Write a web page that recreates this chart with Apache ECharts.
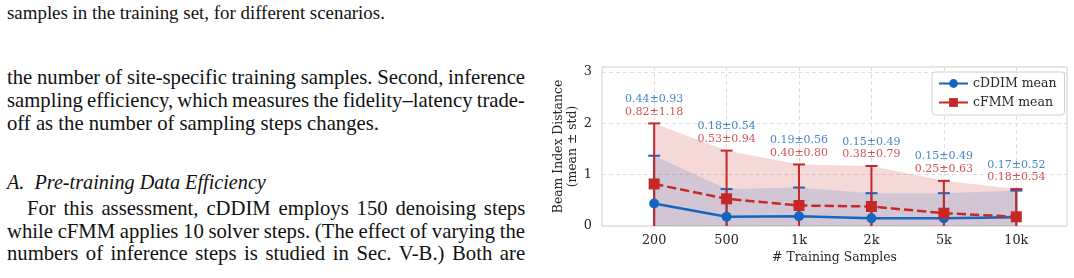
<!DOCTYPE html>
<html>
<head>
<meta charset="utf-8">
<script src="https://cdn.jsdelivr.net/npm/echarts@6/dist/echarts.min.js"></script>
<style>
html, body { margin: 0; padding: 0; background: #fff; }
#page { position: relative; width: 1074px; height: 278px; overflow: hidden; }
#main { position: absolute; left: 0; top: 0; width: 1074px; height: 278px; }
.ln { position: absolute; left: 7px; height: 22px; line-height: 22px;
      font-family: "Liberation Serif"; font-size: 20.7px; color: #111; white-space: nowrap; }
</style>
</head>
<body>
<div id="page">
  <div class="ln" style="top:2px;font-size:18.9px"><span>samples in the training set, for different scenarios.</span></div>
  <div class="ln" style="top:66px" data-w="518"><span>the number of site-specific training samples. Second, inference</span></div>
  <div class="ln" style="top:89px" data-w="518"><span>sampling efficiency, which measures the fidelity–latency trade-</span></div>
  <div class="ln" style="top:111.5px"><span>off as the number of sampling steps changes.</span></div>
  <div class="ln" style="top:170.7px;font-size:20.2px;font-style:italic"><span>A.&nbsp; Pre-training Data Efficiency</span></div>
  <div class="ln" style="top:197px;left:27px" data-w="498"><span>For this assessment, cDDIM employs 150 denoising steps</span></div>
  <div class="ln" style="top:219.7px" data-w="518"><span>while cFMM applies 10 solver steps. (The effect of varying the</span></div>
  <div class="ln" style="top:242.3px" data-w="518"><span>numbers of inference steps is studied in Sec. V-B.) Both are</span></div>
  <div id="main"></div>
</div>
<script>
// training-set sizes and per-model mean / std of beam index distance
var categories = ['200', '500', '1k', '2k', '5k', '10k'];
var cddimMean = [0.44, 0.18, 0.19, 0.15, 0.15, 0.17];
var cddimStd = [0.93, 0.54, 0.56, 0.49, 0.49, 0.52];
var cfmmMean = [0.82, 0.53, 0.40, 0.38, 0.25, 0.18];
var cfmmStd = [1.18, 0.94, 0.80, 0.79, 0.63, 0.54];
var yTicks = [0, 1, 2, 3];

var BLUE = '#1565c0';
var RED = '#c62828';
var FONT = 'DejaVu Serif';
var INK = '#262626';

// justify the page text lines by word spacing
document.querySelectorAll('.ln[data-w]').forEach(function (el) {
	var span = el.firstElementChild;
	var target = parseFloat(el.getAttribute('data-w'));
	var gaps = span.textContent.split(' ').length - 1;
	var w = span.offsetWidth;
	el.style.wordSpacing = ((target - w) / gaps) + 'px';
});

var xIdx = categories.map(function (c, i) { return i; });
function pts(arr) { return arr.map(function (v, i) { return [i, v]; }); }
function upper(m, s) { return m.map(function (v, i) { return +(v + s[i]).toFixed(2); }); }
function fmt(m, s, i) { return m[i].toFixed(2) + '±' + s[i].toFixed(2); }

function errorBars(mean, std, color, name) {
	return {
		type: 'custom',
		name: name,
		z: 3,
		silent: true,
		clip: true,
		data: mean.map(function (v, i) { return [i, v - std[i], v + std[i]]; }),
		renderItem: function (params, api) {
			var x = api.value(0), lo = api.value(1), hi = api.value(2);
			var top = api.coord([x, hi]);
			var bot = api.coord([x, Math.max(lo, 0)]);
			var half = 6;
			var style = { stroke: color, lineWidth: 2, fill: null };
			var kids = [
				{ type: 'line', shape: { x1: top[0], y1: top[1], x2: bot[0], y2: bot[1] }, style: style },
				{ type: 'line', shape: { x1: top[0] - half, y1: top[1], x2: top[0] + half, y2: top[1] }, style: style }
			];
			if (lo >= 0) {
				kids.push({ type: 'line', shape: { x1: bot[0] - half, y1: bot[1], x2: bot[0] + half, y2: bot[1] }, style: style });
			}
			return { type: 'group', children: kids };
		}
	};
}

var cddimUp = upper(cddimMean, cddimStd);
var cfmmUp = upper(cfmmMean, cfmmStd);

var myChart = echarts.init(document.getElementById('main'));
var option = {
	animation: false,
	backgroundColor: 'transparent',
	grid: {
		left: 602, top: 67, right: 7, bottom: 52,
		show: true, borderColor: '#cfcfcf', borderWidth: 1, backgroundColor: '#fff'
	},
	legend: {
		data: [
			{ name: 'cDDIM mean' },
			{ name: 'cFMM mean', lineStyle: { type: 'solid' } }
		],
		orient: 'vertical',
		left: 932, top: 72,
		padding: [5, 8, 6, 6],
		itemGap: 6,
		itemWidth: 29,
		itemHeight: 11,
		backgroundColor: 'rgba(255,255,255,0.85)',
		borderColor: '#d0d0d0', borderWidth: 1, borderRadius: 3,
		textStyle: { fontFamily: FONT, fontSize: 12.5, color: INK, lineHeight: 12 }
	},
	xAxis: {
		type: 'value',
		min: -0.72, max: 5.7,
		name: '# Training Samples',
		nameLocation: 'middle',
		nameGap: 24,
		nameTextStyle: { fontFamily: FONT, fontSize: 12.4, color: INK },
		axisLine: { show: false },
		axisTick: { show: false, customValues: xIdx },
		axisLabel: {
			customValues: xIdx,
			formatter: function (v) { return categories[Math.round(v)]; },
			fontFamily: FONT, fontSize: 12.8, color: INK, margin: 8
		},
		splitLine: { show: true, lineStyle: { color: '#dedede', type: [4, 3], width: 1 } }
	},
	yAxis: {
		type: 'value',
		min: 0, max: 3.1,
		name: 'Beam Index Distance\n(mean ± std)',
		nameLocation: 'middle',
		nameGap: 22,
		nameRotate: 90,
		nameTextStyle: { fontFamily: FONT, fontSize: 12.4, color: INK, lineHeight: 14 },
		axisLine: { show: false },
		axisTick: { show: false, customValues: yTicks },
		axisLabel: { customValues: yTicks, fontFamily: FONT, fontSize: 12.8, color: INK, margin: 10 },
		splitLine: { show: true, lineStyle: { color: '#dedede', type: [4, 3], width: 1 } }
	},
	series: [
		// std bands (lower bounds are all below the axis floor of 0)
		{
			type: 'line', data: pts(cfmmUp), symbol: 'none', silent: true, z: 1,
			lineStyle: { width: 0 }, areaStyle: { color: RED, opacity: 0.18 }
		},
		{
			type: 'line', data: pts(cddimUp), symbol: 'none', silent: true, z: 1,
			lineStyle: { width: 0 }, areaStyle: { color: BLUE, opacity: 0.15 }
		},
		errorBars(cddimMean, cddimStd, BLUE, 'cDDIM err'),
		errorBars(cfmmMean, cfmmStd, RED, 'cFMM err'),
		{
			name: 'cDDIM mean', type: 'line', data: pts(cddimMean), z: 5,
			symbol: 'circle', symbolSize: 10,
			lineStyle: { color: BLUE, width: 2.5 }, itemStyle: { color: BLUE }
		},
		{
			name: 'cFMM mean', type: 'line', data: pts(cfmmMean), z: 6,
			symbol: 'rect', symbolSize: 11,
			lineStyle: { color: RED, width: 2.5, type: [9.25, 4] }, itemStyle: { color: RED }
		},
		{
			type: 'scatter', silent: true, z: 10, symbolSize: 0,
			data: categories.map(function (c, i) { return [i, Math.max(cddimUp[i], cfmmUp[i])]; }),
			label: {
				show: true, position: 'top', distance: 5.5,
				formatter: function (p) {
					var i = p.dataIndex;
					return '{b|' + fmt(cddimMean, cddimStd, i) + '}\n{r|' + fmt(cfmmMean, cfmmStd, i) + '}';
				},
				rich: {
					b: { color: BLUE, fontFamily: FONT, fontSize: 11, lineHeight: 12.5 },
					r: { color: RED, fontFamily: FONT, fontSize: 11, lineHeight: 12.5 }
				}
			}
		}
	]
};
myChart.setOption(option);
</script>
</body>
</html>
